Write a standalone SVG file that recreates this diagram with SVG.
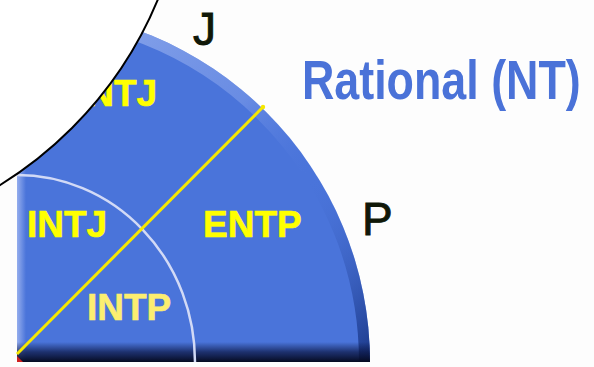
<svg xmlns="http://www.w3.org/2000/svg" width="594" height="367" viewBox="0 0 594 367">
  <defs>
    <clipPath id="quad">
      <path d="M17,362 L17,9 A353,353 0 0 1 370,362 Z"/>
    </clipPath>
    <linearGradient id="rimGrad" gradientUnits="userSpaceOnUse" x1="17" y1="9" x2="370" y2="362">
      <stop offset="0" stop-color="#9fb6f0" stop-opacity="0.9"/>
      <stop offset="0.45" stop-color="#88a4ec" stop-opacity="0.5"/>
      <stop offset="0.65" stop-color="#4a74dc" stop-opacity="0"/>
      <stop offset="1" stop-color="#14307e" stop-opacity="0.9"/>
    </linearGradient>
    <linearGradient id="bottomGrad" x1="0" y1="0" x2="0" y2="1">
      <stop offset="0" stop-color="#0a1440" stop-opacity="0"/>
      <stop offset="0.5" stop-color="#0a1440" stop-opacity="0.7"/>
      <stop offset="1" stop-color="#050a20" stop-opacity="1"/>
    </linearGradient>
    <linearGradient id="leftGrad" x1="0" y1="0" x2="1" y2="0">
      <stop offset="0" stop-color="#a8bcf2" stop-opacity="0.8"/>
      <stop offset="1" stop-color="#a8bcf2" stop-opacity="0"/>
    </linearGradient>
    <style>
      .lbl { font-family: "Liberation Sans", Arial, sans-serif; font-weight: bold; font-size: 37px; fill: #ffff00; stroke: #ffff00; stroke-width: 0.6; }
      .pole { font-family: "Liberation Sans", Arial, sans-serif; font-size: 46px; fill: #101808; stroke: #101808; stroke-width: 0.9; }
    </style>
  </defs>
  <rect width="594" height="367" fill="#fdfdfd"/>

  <g id="quadrant">
    <path d="M17,362 L17,9 A353,353 0 0 1 370,362 Z" fill="#4a74da"/>
    <g clip-path="url(#quad)">
      <path d="M17,14 A348,348 0 0 1 365,362" fill="none" stroke="url(#rimGrad)" stroke-width="12"/>
      <rect x="17" y="0" width="9" height="362" fill="url(#leftGrad)"/>
      <rect x="17" y="342" width="360" height="20" fill="url(#bottomGrad)"/>
    </g>
    <path d="M17,356 L17,362 L23,362 Z" fill="#d02020"/>
  </g>

  <g id="connectors">
    <path d="M17,175 A178,187 0 0 1 195,362" fill="none" stroke="#d2daf6" stroke-width="2.5"/>
    <line x1="17" y1="354" x2="263" y2="107" stroke="#f6e800" stroke-width="3"/>
    <circle cx="263" cy="107" r="2.2" fill="#f6e800"/>
  </g>

  <g id="node-intj-top"><text class="lbl" x="77" y="106">INTJ</text></g>
  <g id="node-intj"><text class="lbl" x="27" y="237">INTJ</text></g>
  <g id="node-entp"><text class="lbl" x="203" y="237">ENTP</text></g>
  <g id="node-intp"><text class="lbl" x="87" y="320" style="fill:#fcee70;stroke:#fcee70">INTP</text></g>

  <g id="overlay">
    <circle cx="-208" cy="-152" r="396" fill="#ffffff" stroke="#000000" stroke-width="2"/>
  </g>

  <g id="pole-j"><text class="pole" x="193" y="45">J</text></g>
  <g id="pole-p"><text class="pole" x="362" y="235">P</text></g>
  <g id="title"><text transform="scale(0.8,1)" x="377.5" y="99" style="font-family:'Liberation Sans', Arial, sans-serif; font-weight:bold; font-size:56px; fill:#4a72d8">Rational (NT)</text></g>
</svg>
